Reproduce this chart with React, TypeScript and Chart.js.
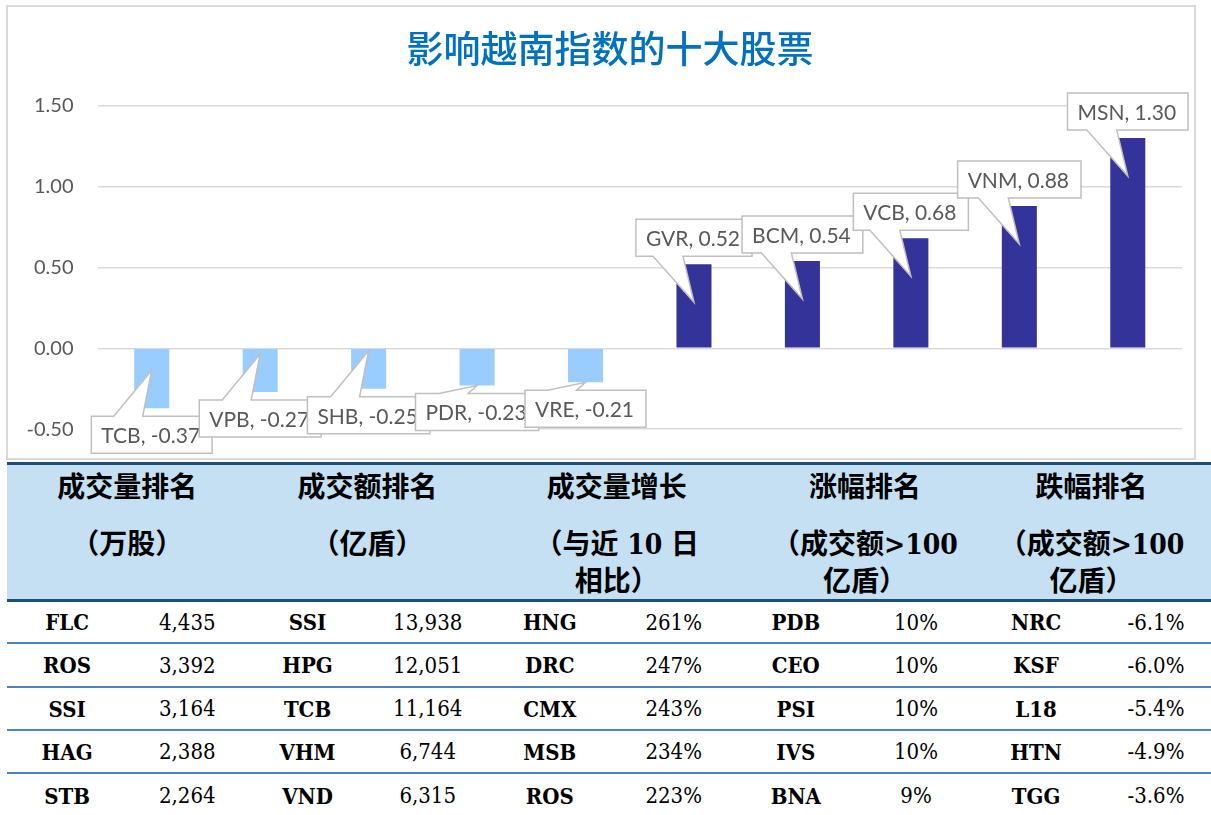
import React, { useEffect, useRef } from "react";
import { Chart, registerables } from "chart.js";

Chart.register(...registerables);

// ---------- chart data ----------
const chartTitle = "影响越南指数的十大股票";
const stocks = ["TCB", "VPB", "SHB", "PDR", "VRE", "GVR", "BCM", "VCB", "VNM", "MSN"];
const impact = [-0.37, -0.27, -0.25, -0.23, -0.21, 0.52, 0.54, 0.68, 0.88, 1.3];
const yMin = -0.5;
const yMax = 1.5;
const yStep = 0.5;

// ---------- table data ----------
const headerTitles = ["成交量排名", "成交额排名", "成交量增长", "涨幅排名", "跌幅排名"];
const headerSubs = [
  ["（万股）"],
  ["（亿盾）"],
  ["（与近 10 日", "相比）"],
  ["（成交额>100", "亿盾）"],
  ["（成交额>100", "亿盾）"],
];
const volNames = ["FLC", "ROS", "SSI", "HAG", "STB"];
const volValues = [4435, 3392, 3164, 2388, 2264];
const amtNames = ["SSI", "HPG", "TCB", "VHM", "VND"];
const amtValues = [13938, 12051, 11164, 6744, 6315];
const growthNames = ["HNG", "DRC", "CMX", "MSB", "ROS"];
const growthValues = [261, 247, 243, 234, 223];
const gainNames = ["PDB", "CEO", "PSI", "IVS", "BNA"];
const gainValues = [10, 10, 10, 10, 9];
const lossNames = ["NRC", "KSF", "L18", "HTN", "TGG"];
const lossValues = [-6.1, -6.0, -5.4, -4.9, -3.6];

const POS_COLOR = "#333399";
const NEG_COLOR = "#99CCFF";
const LABEL_FONT = "21px Lato, 'Open Sans', sans-serif";

const titlePlugin = {
  id: "customTitle",
  afterDraw(chart: any) {
    const ctx = chart.ctx;
    ctx.save();
    ctx.font = "500 37px 'Noto Sans CJK SC', sans-serif";
    ctx.fillStyle = "#0070C0";
    ctx.textAlign = "center";
    ctx.textBaseline = "middle";
    ctx.fillText(chartTitle, 602, 42);
    ctx.restore();
  },
};

const calloutPlugin = {
  id: "callouts",
  afterDatasetsDraw(chart: any) {
    const ctx = chart.ctx;
    const meta = chart.getDatasetMeta(0);
    ctx.save();
    ctx.font = LABEL_FONT;
    meta.data.forEach((bar: any, i: number) => {
      const v = impact[i];
      const label = `${stocks[i]}, ${v.toFixed(2)}`;
      const tw = ctx.measureText(label).width;
      const w = tw + 22;
      const h = 37;
      const cx = bar.x;
      const end = bar.y;
      const len = Math.abs(bar.base - end);
      const left = cx - w / 2;
      let top: number;
      ctx.beginPath();
      if (v >= 0) {
        top = end - 8 - h;
        const tipY = len > 40 ? end + 38 : end;
        ctx.moveTo(left, top);
        ctx.lineTo(left + w, top);
        ctx.lineTo(left + w, top + h);
        ctx.lineTo(cx - 11, top + h);
        ctx.lineTo(cx, tipY);
        ctx.lineTo(cx - 41, top + h);
        ctx.lineTo(left, top + h);
        ctx.closePath();
      } else {
        top = end + 8;
        const tipY = len > 39 ? end - 38 : end;
        ctx.moveTo(left, top + h);
        ctx.lineTo(left, top);
        ctx.lineTo(cx - 38, top);
        ctx.lineTo(cx, tipY);
        ctx.lineTo(cx - 9, top);
        ctx.lineTo(left + w, top);
        ctx.lineTo(left + w, top + h);
        ctx.closePath();
      }
      ctx.fillStyle = "#FFFFFF";
      ctx.fill();
      ctx.lineWidth = 1.5;
      ctx.strokeStyle = "#BFBFBF";
      ctx.stroke();
      ctx.fillStyle = "#595959";
      ctx.textAlign = "left";
      ctx.textBaseline = "middle";
      ctx.fillText(label, left + 10, top + h / 2 + 1.5);
    });
    ctx.restore();
  },
};

function BarChart() {
  const ref = useRef<HTMLCanvasElement | null>(null);
  useEffect(() => {
    if (!ref.current) return;
    const chart = new Chart(ref.current, {
      type: "bar",
      data: {
        labels: stocks,
        datasets: [
          {
            data: impact,
            backgroundColor: impact.map((v) => (v < 0 ? NEG_COLOR : POS_COLOR)),
            barPercentage: 0.323,
            categoryPercentage: 1,
          },
        ],
      },
      options: {
        animation: false,
        responsive: false,
        devicePixelRatio: 1,
        layout: { padding: { top: 98.7, bottom: 28.8, left: 0, right: 12 } },
        plugins: {
          legend: { display: false },
          tooltip: { enabled: false },
          title: { display: false },
        },
        scales: {
          x: { display: false },
          y: {
            min: yMin,
            max: yMax,
            afterFit: (s: any) => {
              s.width = 89.5;
              s.paddingTop = 0;
              s.paddingBottom = 0;
            },
            ticks: {
              stepSize: yStep,
              padding: 24,
              color: "#595959",
              font: { family: "Lato, 'Open Sans', sans-serif", size: 20 },
              callback: (v: any) => Number(v).toFixed(2),
            },
            grid: { color: "#D9D9D9", lineWidth: 1.5, drawTicks: false },
            border: { display: false },
          },
        },
      },
      plugins: [titlePlugin, calloutPlugin],
    });
    return () => chart.destroy();
  }, []);
  return <canvas ref={ref} width={1186} height={451} style={{ display: "block", width: 1186, height: 451 }} />;
}

const tableFont = "'DejaVu Serif Condensed', 'Liberation Serif', 'Noto Sans CJK SC', serif";
const groupWidths = [240.5, 240.5, 248, 240.5, 240];
const groupShift = [0, 0, 10, 18, -9];
const rowHeights = [42, 44, 43, 43, 43];

function fmtInt(v: number) {
  return v.toLocaleString("en-US");
}

export default function App() {
  const rows = volNames.map((_, i) => [
    [volNames[i], fmtInt(volValues[i])],
    [amtNames[i], fmtInt(amtValues[i])],
    [growthNames[i], `${growthValues[i]}%`],
    [gainNames[i], `${gainValues[i]}%`],
    [lossNames[i], `${lossValues[i].toFixed(1)}%`],
  ]);
  return (
    <div
      style={{
        position: "absolute",
        left: 0,
        top: 0,
        width: 1211,
        height: 815,
        overflow: "hidden",
        background: "#FFFFFF",
      }}
    >
      <div
        style={{
          position: "absolute",
          left: 6,
          top: 5,
          width: 1190,
          height: 455,
          border: "2px solid #D9D9D9",
          boxSizing: "border-box",
        }}
      >
        <BarChart />
      </div>
      <div style={{ position: "absolute", left: 7, top: 462, width: 1209, fontFamily: tableFont, color: "#000" }}>
        <div
          style={{
            height: 140,
            boxSizing: "border-box",
            borderTop: "3px solid #1F4E79",
            borderBottom: "3px solid #1F4E79",
            background: "#C5E0F3",
            display: "flex",
            fontWeight: "bold",
            fontSize: 28,
          }}
        >
          {headerTitles.map((t, g) => (
            <div
              key={g}
              style={{
                width: groupWidths[g],
                boxSizing: "border-box",
                paddingLeft: groupShift[g] > 0 ? groupShift[g] : 0,
                paddingRight: groupShift[g] < 0 ? -groupShift[g] : 0,
                textAlign: "center",
                paddingTop: 3.5,
                lineHeight: "37px",
                whiteSpace: "nowrap",
              }}
            >
              <div>{t}</div>
              <div style={{ marginTop: 20 }}>
                {headerSubs[g].map((s, k) => (
                  <div key={k}>{s}</div>
                ))}
              </div>
            </div>
          ))}
        </div>
        {rows.map((row, r) => (
          <div
            key={r}
            style={{
              height: rowHeights[r],
              boxSizing: "border-box",
              borderBottom: r < rows.length - 1 ? "2px solid #4F81BD" : "none",
              display: "flex",
              fontSize: 22,
            }}
          >
            {row.map((cell, g) => (
              <div key={g} style={{ width: groupWidths[g], display: "flex" }}>
                <div
                  style={{
                    width: "50%",
                    display: "flex",
                    alignItems: "center",
                    justifyContent: "center",
                    fontWeight: "bold",
                  }}
                >
                  {cell[0]}
                </div>
                <div style={{ width: "50%", display: "flex", alignItems: "center", justifyContent: "center" }}>
                  {cell[1]}
                </div>
              </div>
            ))}
          </div>
        ))}
      </div>
    </div>
  );
}
